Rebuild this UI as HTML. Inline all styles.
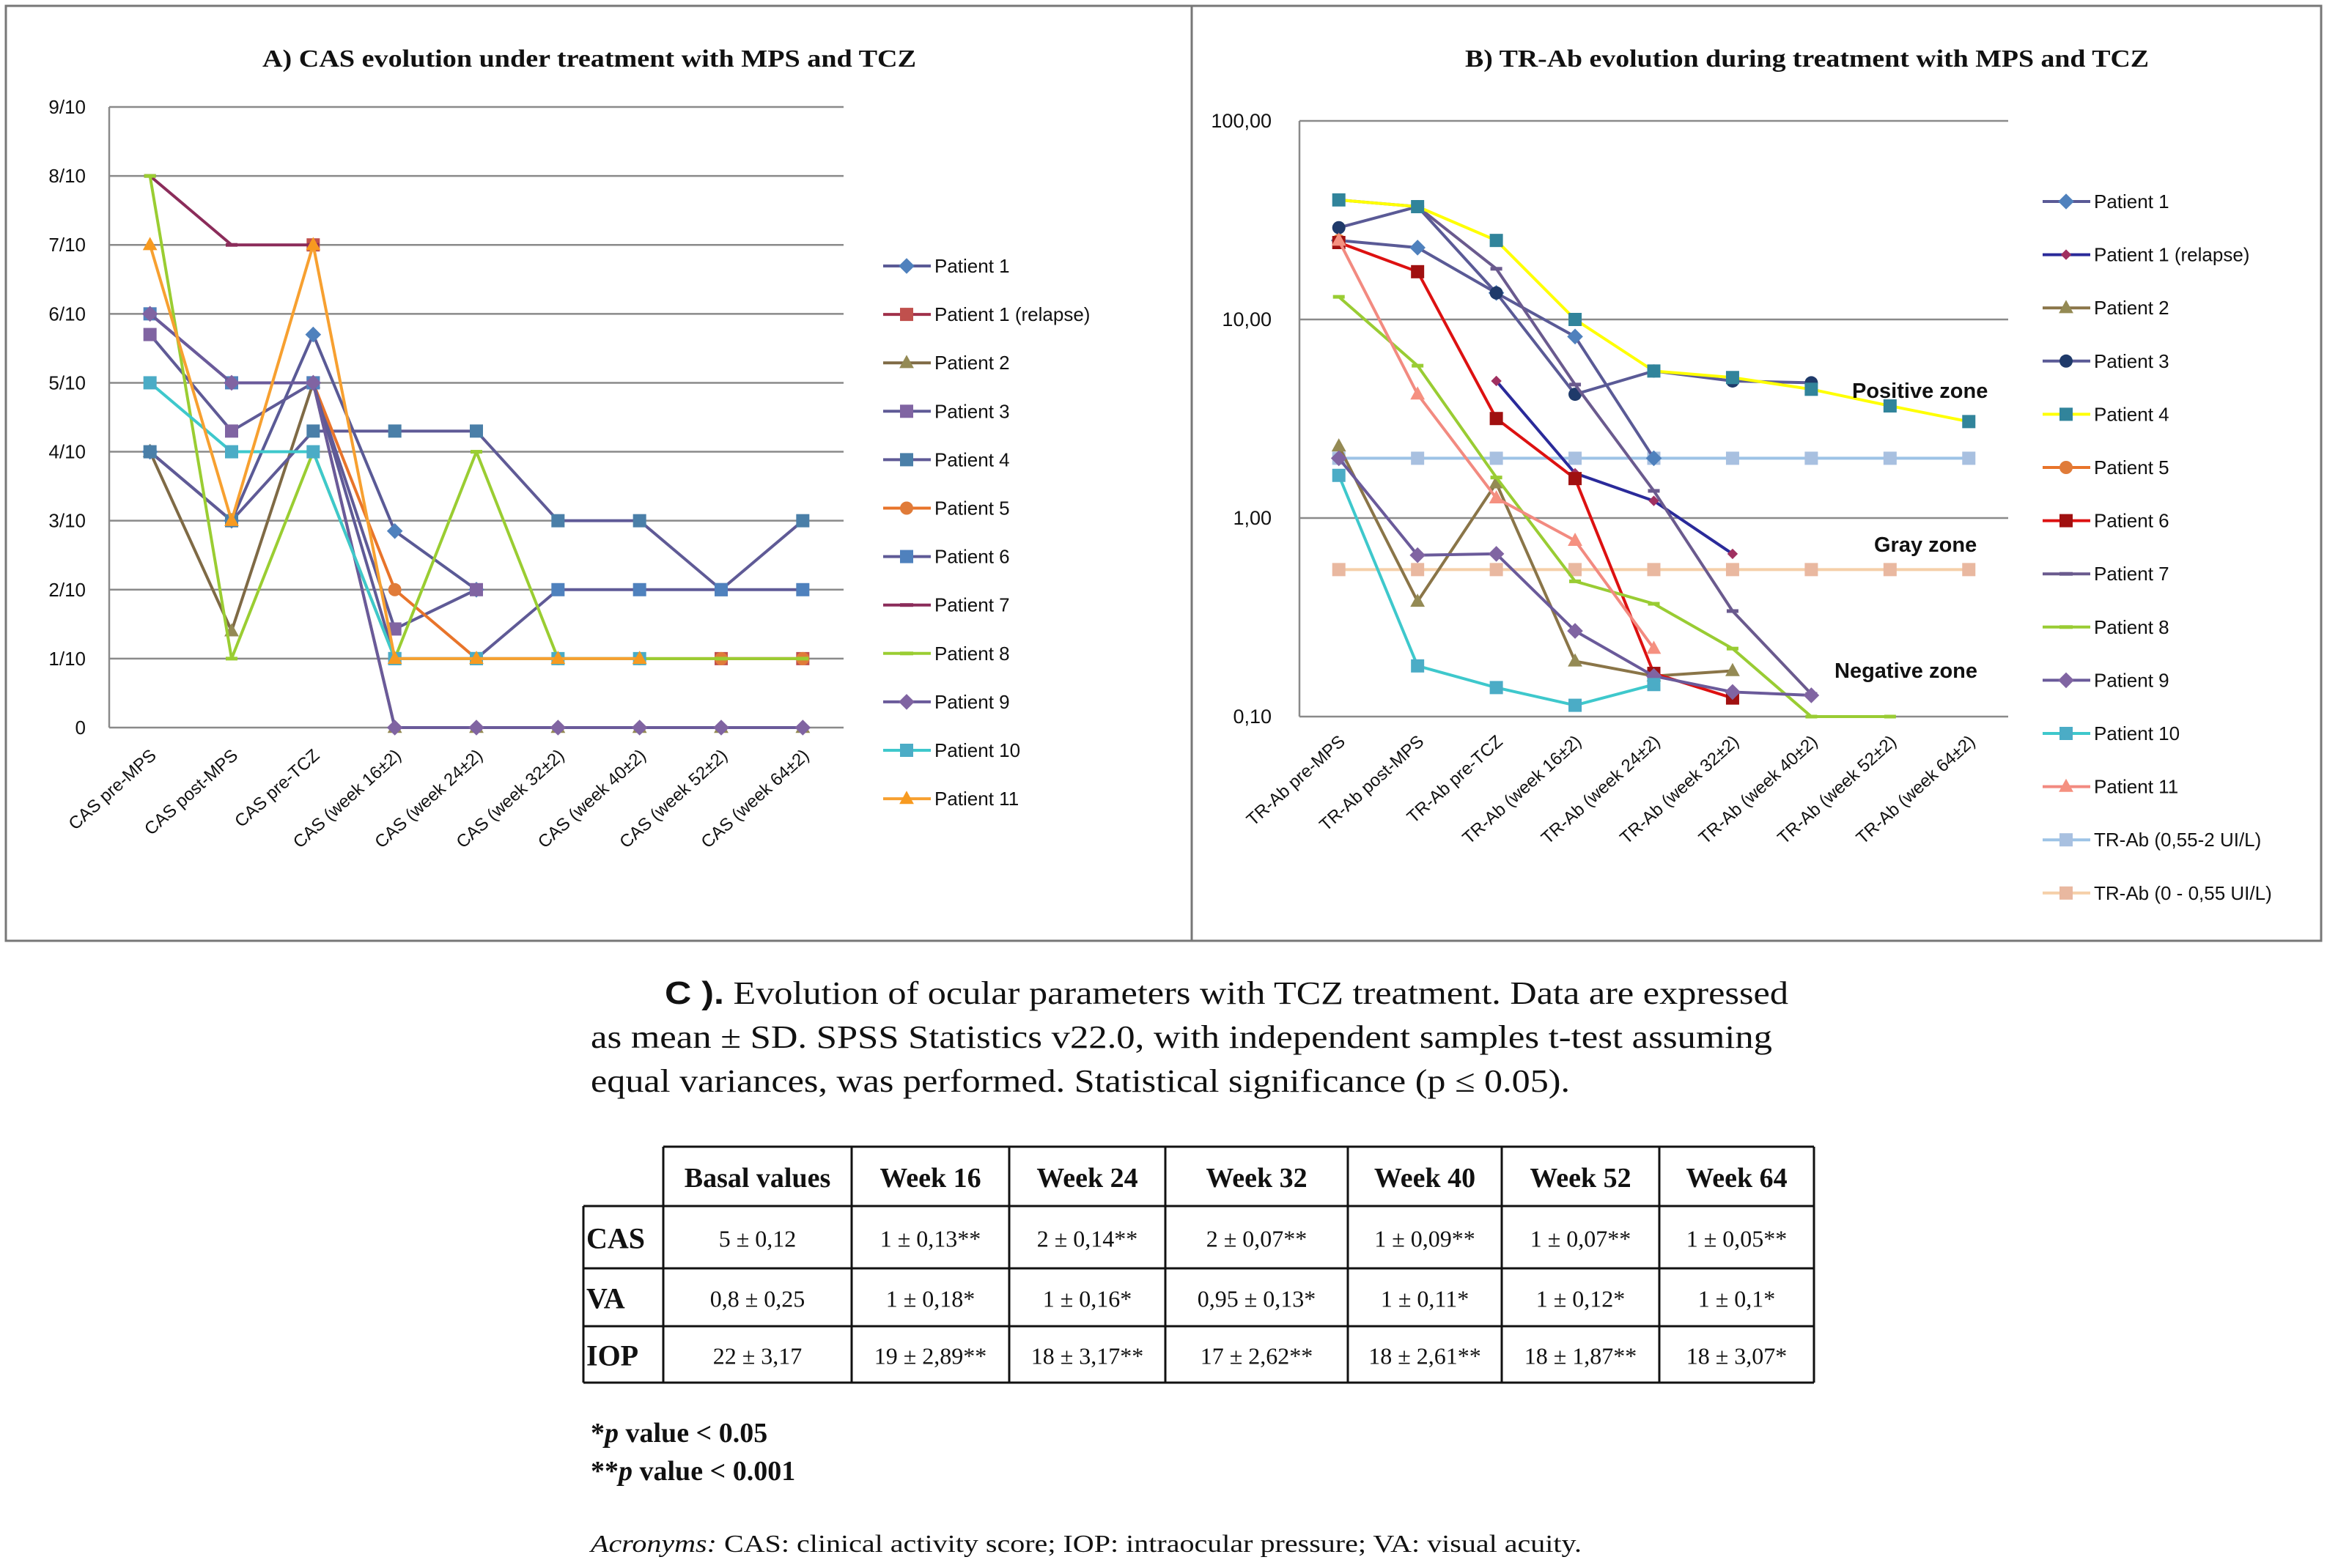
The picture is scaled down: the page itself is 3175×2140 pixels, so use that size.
<!DOCTYPE html>
<html><head><meta charset="utf-8"><style>
html,body{margin:0;padding:0;background:#fff;}
svg{display:block;}
text{font-family:"Liberation Sans",sans-serif;fill:#111;}
.serif{font-family:"Liberation Serif",serif;}
</style></head><body>
<svg id="root" width="3175" height="2140" viewBox="0 0 3175 2140" xmlns="http://www.w3.org/2000/svg">
<rect x="0" y="0" width="3175" height="2140" fill="#fff"/>
<rect x="8" y="8" width="1618" height="1276" fill="none" stroke="#777" stroke-width="3"/>
<rect x="1626" y="8" width="1541" height="1276" fill="none" stroke="#777" stroke-width="3"/>
<text class="serif" x="358" y="91" font-size="34" font-weight="bold" textLength="892" lengthAdjust="spacingAndGlyphs">A) CAS evolution under treatment with MPS and TCZ</text>
<text class="serif" x="1999" y="91" font-size="34" font-weight="bold" textLength="933" lengthAdjust="spacingAndGlyphs">B) TR-Ab evolution during treatment with MPS and TCZ</text>
<g id="chartA"></g>
<g id="chartB"></g>
<g id="tableC">
<text class="serif" x="907" y="1370" font-size="44" textLength="1533" lengthAdjust="spacingAndGlyphs"><tspan font-family="Liberation Sans" font-weight="bold">C ).</tspan> Evolution of ocular parameters with TCZ  treatment. Data are expressed</text>
<text class="serif" x="806" y="1430" font-size="44" textLength="1612" lengthAdjust="spacingAndGlyphs">as mean ± SD.  SPSS  Statistics v22.0, with independent samples t-test assuming</text>
<text class="serif" x="806" y="1490" font-size="44" textLength="1336" lengthAdjust="spacingAndGlyphs">equal variances, was performed. Statistical significance (p ≤ 0.05).</text>
</g>
<text class="serif" x="806" y="1968" font-size="38" font-weight="bold">*<tspan font-style="italic">p</tspan> value &lt; 0.05</text>
<text class="serif" x="806" y="2020" font-size="38" font-weight="bold">**<tspan font-style="italic">p</tspan> value &lt; 0.001</text>
<text class="serif" x="806" y="2118" font-size="34" textLength="1352" lengthAdjust="spacingAndGlyphs"><tspan font-style="italic">Acronyms:</tspan> CAS: clinical activity score; IOP: intraocular pressure; VA: visual acuity.</text>
</svg>
<script>
// ---------- Panel A data ----------
const catsA = ["CAS pre-MPS","CAS post-MPS","CAS pre-TCZ","CAS (week 16±2)","CAS (week 24±2)","CAS (week 32±2)","CAS (week 40±2)","CAS (week 52±2)","CAS (week 64±2)"];
const ticksA = ["0","1/10","2/10","3/10","4/10","5/10","6/10","7/10","8/10","9/10"];
const namesA = ["Patient 1","Patient 1 (relapse)","Patient 2","Patient 3","Patient 4","Patient 5","Patient 6","Patient 7","Patient 8","Patient 9","Patient 10","Patient 11"];
const a_p1  = [4,3,5.7,2.85,2,null,null,null,null];
const a_p1r = [null,null,7,null,null,null,null,1,1];
const a_p2  = [4,1.4,5,0,0,0,0,0,0];
const a_p3  = [5.7,4.3,5,1.43,2,null,null,null,null];
const a_p4  = [4,3,4.3,4.3,4.3,3,3,2,3];
const a_p5  = [null,null,5,2,1,1,1,1,1];
const a_p6  = [6,5,5,1,1,2,2,2,2];
const a_p7  = [8,7,7,null,null,null,null,null,null];
const a_p8  = [8,1,4,1,4,1,1,1,1];
const a_p9  = [6,5,5,0,0,0,0,0,0];
const a_p10 = [5,4,4,1,1,1,1,null,null];
const a_p11 = [7,3,7,1,1,1,1,null,null];
// ---------- Panel B data ----------
const catsB = ["TR-Ab pre-MPS","TR-Ab post-MPS","TR-Ab pre-TCZ","TR-Ab (week 16±2)","TR-Ab (week 24±2)","TR-Ab (week 32±2)","TR-Ab (week 40±2)","TR-Ab (week 52±2)","TR-Ab (week 64±2)"];
const ticksB = [0.1,1,10,100];
const tickLabelsB = ["0,10","1,00","10,00","100,00"];
const namesB = ["Patient 1","Patient 1 (relapse)","Patient 2","Patient 3","Patient 4","Patient 5","Patient 6","Patient 7","Patient 8","Patient 9","Patient 10","Patient 11","TR-Ab (0,55-2 UI/L)","TR-Ab (0 - 0,55 UI/L)"];
const b_p1  = [25,23,13.6,8.2,2.0,null,null,null,null];
const b_p1r = [null,null,4.9,1.68,1.22,0.66,null,null,null];
const b_p2  = [2.3,0.38,1.5,0.19,0.16,0.17,null,null,null];
const b_p3  = [29,37,13.6,4.2,5.5,4.9,4.8,null,null];
const b_p4  = [40,37,25,10,5.5,5.1,4.45,3.67,3.06];
const b_p5  = [25,null,null,null,null,null,null,null,null];
const b_p6  = [24.4,17.4,3.17,1.58,0.165,0.124,null,null,null];
const b_p7  = [40,37,18,4.7,1.37,0.34,0.13,null,null];
const b_p8  = [13,5.85,1.6,0.48,0.37,0.22,0.10,0.10,null];
const b_p9  = [2.0,0.65,0.66,0.27,0.16,0.133,0.128,null,null];
const b_p10 = [1.64,0.18,0.14,0.114,0.145,null,null,null,null];
const b_p11 = [25,4.2,1.26,0.77,0.22,null,null,null,null];
const b_ref1 = [2,2,2,2,2,2,2,2,2];
const b_ref2 = [0.55,0.55,0.55,0.55,0.55,0.55,0.55,0.55,0.55];
// ---------- Table data ----------
const tblHead = ["Basal values","Week 16","Week 24","Week 32","Week 40","Week 52","Week 64"];
const tblRows = ["CAS","VA","IOP"];
const tblCAS = ["5 ± 0,12","1 ± 0,13**","2 ± 0,14**","2 ± 0,07**","1 ± 0,09**","1 ± 0,07**","1 ± 0,05**"];
const tblVA  = ["0,8 ± 0,25","1 ± 0,18*","1 ± 0,16*","0,95 ± 0,13*","1 ± 0,11*","1 ± 0,12*","1 ± 0,1*"];
const tblIOP = ["22 ± 3,17","19 ± 2,89**","18 ± 3,17**","17 ± 2,62**","18 ± 2,61**","18 ± 1,87**","18 ± 3,07*"];

const NS="http://www.w3.org/2000/svg";
function mk(parent,tag,attrs){const e=document.createElementNS(NS,tag);for(const k in attrs)e.setAttribute(k,attrs[k]);parent.appendChild(e);return e;}
function marker(g,shape,x,y,fill,r){
  let e;
  if(shape==="diamond") e=mk(g,"polygon",{points:`${x},${y-r*1.2} ${x+r*1.2},${y} ${x},${y+r*1.2} ${x-r*1.2},${y}`,fill});
  else if(shape==="square") e=mk(g,"rect",{x:x-r,y:y-r,width:2*r,height:2*r,fill});
  else if(shape==="triangle") e=mk(g,"polygon",{points:`${x},${y-r*1.2} ${x+r*1.1},${y+r*0.8} ${x-r*1.1},${y+r*0.8}`,fill});
  else if(shape==="circle") e=mk(g,"circle",{cx:x,cy:y,r:r,fill});
  else if(shape==="dash") e=mk(g,"rect",{x:x-r,y:y-2.5,width:2*r,height:5,fill});
  else if(shape==="smalldiamond") e=mk(g,"polygon",{points:`${x},${y-r*0.8} ${x+r*0.8},${y} ${x},${y+r*0.8} ${x-r*0.8},${y}`,fill});
  return e;
}
function drawSeries(g,vals,xf,yf,line,mfill,shape,name,lw){
  const sg=mk(g,"g",{});
  
  
  let seg=[];
  const flush=()=>{ if(seg.length>1){ const p=mk(sg,"polyline",{points:seg.join(" "),fill:"none",stroke:line,"stroke-width":lw||4,"stroke-linejoin":"round"});   } seg=[]; };
  vals.forEach((v,i)=>{ if(v===null){flush();return;} seg.push(xf(i)+","+yf(v)); });
  flush();
  vals.forEach((v,i)=>{ if(v===null)return; const m=marker(sg,shape,xf(i),yf(v),mfill,shape==="dash"?8:9);
    
     });
}

// ---------- Chart A ----------
(function(){
  const g=document.getElementById("chartA");
  const L=149,R=1151,T=146,B=993,maxV=9;
  const step=(R-L)/catsA.length;
  const xA=i=>L+step*(i+0.5);
  const yA=v=>B-(B-T)*v/maxV;
  ticksA.forEach((t,i)=>{
    const ln=mk(g,"line",{x1:L,x2:R,y1:yA(i),y2:yA(i),stroke:"#8a8a8a","stroke-width":2.5});
    
    
    const tx=mk(g,"text",{x:117,y:yA(i)+9,"font-size":26,"text-anchor":"end"}); tx.textContent=t;
    
    
  });
  const ax=mk(g,"line",{x1:L,x2:L,y1:T,y2:B,stroke:"#8a8a8a","stroke-width":2.5});
  
  
  catsA.forEach((c,i)=>{
    const x=xA(i)+10,y=B+40;
    const tx=mk(g,"text",{x:x,y:y,"font-size":24,"text-anchor":"end",transform:`rotate(-42 ${x} ${y})`}); tx.textContent=c;
    
    
  });
  const S=[
    [a_p1,"#5a5a96","#4f81bd","diamond"],
    [a_p1r,"#a0304a","#c0504d","square"],
    [a_p2,"#7f6a45","#948a54","triangle"],
    [a_p3,"#5f5a96","#8064a2","square"],
    [a_p4,"#5f5a96","#4a7fa8","square"],
    [a_p5,"#e8742a","#e07b39","circle"],
    [a_p6,"#5f5a96","#4f81bd","square"],
    [a_p7,"#8b2c5a","#8b2c5a","dash"],
    [a_p8,"#9acd32","#9acd32","dash"],
    [a_p9,"#6a5a9a","#8064a2","diamond"],
    [a_p10,"#3ec8cc","#4bacc6","square"],
    [a_p11,"#f7a030","#f79a20","triangle"]
  ];
  S.forEach((s,k)=>drawSeries(g,s[0],xA,yA,s[1],s[2],s[3],"series-a-"+k,4));
  namesA.forEach((n,k)=>{
    const y=363+66.1*k;
    const lg=mk(g,"g",{});
    
    
    mk(lg,"line",{x1:1205,x2:1270,y1:y,y2:y,stroke:S[k][1],"stroke-width":4});
    marker(lg,S[k][3],1237,y,S[k][2],9);
    const tx=mk(lg,"text",{x:1275,y:y+9,"font-size":26}); tx.textContent=n;
  });
})();

// ---------- Chart B ----------
(function(){
  const g=document.getElementById("chartB");
  const L=1773,R=2740,T=165,B=978;
  const dec=(B-T)/3;
  const step=(R-L)/catsB.length;
  const xB=i=>L+step*(i+0.5);
  const yB=v=>B-dec*(Math.log10(v)+1);
  ticksB.forEach((t,i)=>{
    const ln=mk(g,"line",{x1:L,x2:R,y1:yB(t),y2:yB(t),stroke:"#8a8a8a","stroke-width":2.5});
    
    
    const tx=mk(g,"text",{x:1735,y:yB(t)+9,"font-size":27,"text-anchor":"end"}); tx.textContent=tickLabelsB[i];
    
    
  });
  const ax=mk(g,"line",{x1:L,x2:L,y1:T,y2:B,stroke:"#8a8a8a","stroke-width":2.5});
  
  
  catsB.forEach((c,i)=>{
    const x=xB(i)+10,y=B+36;
    const tx=mk(g,"text",{x:x,y:y,"font-size":24,"text-anchor":"end",transform:`rotate(-42 ${x} ${y})`}); tx.textContent=c;
    
    
  });
  const S=[
    [b_p1,"#5a5a96","#4f81bd","diamond"],
    [b_p1r,"#2a2a9a","#a03060","smalldiamond"],
    [b_p2,"#8a7548","#948a54","triangle"],
    [b_p3,"#5a5a96","#1f3a6a","circle"],
    [b_p4,"#ffff00","#31849b","square"],
    [b_p5,"#e8742a","#e07b39","circle"],
    [b_p6,"#dd1111","#a01010","square"],
    [b_p7,"#6a5a8e","#6a5a8e","dash"],
    [b_p8,"#99cc33","#99cc33","dash"],
    [b_p9,"#6a5a9a","#8064a2","diamond"],
    [b_p10,"#3ec8cc","#4bacc6","square"],
    [b_p11,"#f28a80","#f59080","triangle"],
    [b_ref1,"#9dc3e6","#a8c0e0","square"],
    [b_ref2,"#f5cfa8","#e9b8a0","square"]
  ];
  const order=[12,13,0,1,2,3,5,6,7,8,9,10,11,4];
  order.forEach(k=>drawSeries(g,S[k][0],xB,yB,S[k][1],S[k][2],S[k][3],"series-b-"+k,4));
  namesB.forEach((n,k)=>{
    const y=275+72.6*k;
    const lg=mk(g,"g",{});
    
    
    mk(lg,"line",{x1:2787,x2:2852,y1:y,y2:y,stroke:S[k][1],"stroke-width":4});
    marker(lg,S[k][3],2819,y,S[k][2],9);
    const tx=mk(lg,"text",{x:2857,y:y+9,"font-size":26}); tx.textContent=n;
  });
  [["Positive zone",2527,543,"zone-label-positive"],["Gray zone",2557,753,"zone-label-gray"],["Negative zone",2503,925,"zone-label-negative"]].forEach(z=>{
    const tx=mk(g,"text",{x:z[1],y:z[2],"font-size":29,"font-weight":"bold"}); tx.textContent=z[0];
    
    
  });
})();

// ---------- Table ----------
(function(){
  const g=document.getElementById("tableC");
  const cols=[796,905,1162,1377,1590,1839,2049,2264,2475];
  const rows=[1565,1646,1731,1810,1887];
  const st={stroke:"#111","stroke-width":3};
  mk(g,"line",Object.assign({x1:905,x2:2475,y1:rows[0],y2:rows[0]},st));
  for(let r=1;r<rows.length;r++) mk(g,"line",Object.assign({x1:796,x2:2475,y1:rows[r],y2:rows[r]},st));
  mk(g,"line",Object.assign({x1:796,x2:796,y1:rows[1],y2:rows[4]},st));
  for(let c=1;c<cols.length;c++) mk(g,"line",Object.assign({x1:cols[c],x2:cols[c],y1:rows[0],y2:rows[4]},st));
  tblHead.forEach((h,i)=>{
    const cx=(cols[i+1]+cols[i+2])/2;
    const tx=mk(g,"text",{class:"serif",x:cx,y:rows[0]+55,"font-size":38,"font-weight":"bold","text-anchor":"middle"}); tx.textContent=h;
    
    
  });
  const data=[tblCAS,tblVA,tblIOP];
  tblRows.forEach((rn,r)=>{
    const ty=(rows[r+1]+rows[r+2])/2+13;
    const tx=mk(g,"text",{class:"serif",x:800,y:ty+2,"font-size":40,"font-weight":"bold"}); tx.textContent=rn;
    
    
    data[r].forEach((v,i)=>{
      const cx=(cols[i+1]+cols[i+2])/2;
      const t2=mk(g,"text",{class:"serif",x:cx,y:ty,"font-size":32,"text-anchor":"middle"}); t2.textContent=v;
      
      
    });
  });
})();
</script>
</body></html>
